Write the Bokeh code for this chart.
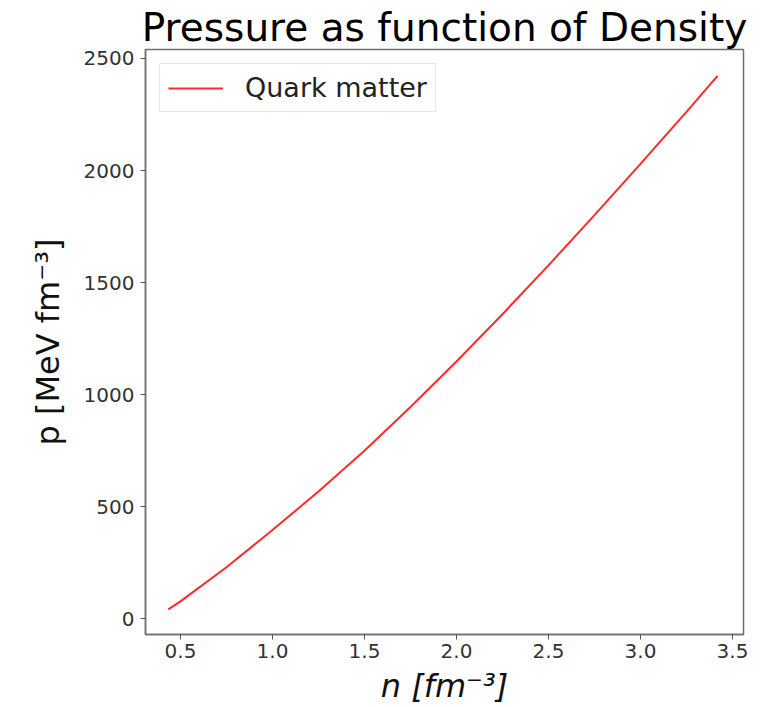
from bokeh.plotting import figure
from bokeh.models import Range1d, FixedTicker, Legend, LegendItem
from bokeh.embed import file_html
from bokeh.resources import INLINE

# ---- data ----
density = [0.434, 0.5, 0.75, 1.0, 1.25, 1.5, 1.75, 2.0, 2.25, 2.5, 2.75, 3.0, 3.25, 3.419]
pressure = [42, 78, 230, 396, 568, 750, 945, 1148, 1359, 1577, 1801, 2030, 2262, 2422]
series_name = "Quark matter"

x_ticks = [0.5, 1.0, 1.5, 2.0, 2.5, 3.0, 3.5]
x_tick_labels = ["0.5", "1.0", "1.5", "2.0", "2.5", "3.0", "3.5"]
y_ticks = [0, 500, 1000, 1500, 2000, 2500]
y_tick_labels = ["0", "500", "1000", "1500", "2000", "2500"]

title_text = "Pressure as function of Density"
x_label = "n [fm\u207b\u00b3]"
y_label = "p [MeV fm\u207b\u00b3]"

FONT = "DejaVu Sans"

p = figure(width=777, height=707, output_backend="svg", toolbar_location=None,
           title=title_text,
           x_range=Range1d(0.31, 3.56), y_range=Range1d(-70, 2540),
           min_border_left=145, min_border_right=34, min_border_top=49, min_border_bottom=70)

p.title.align = "center"
p.title.text_font = FONT
p.title.text_font_size = "39px"
p.title.text_font_style = "normal"
p.title.text_color = "black"
p.title.standoff = 0
p.title.offset = 0

p.background_fill_color = "white"
p.border_fill_color = "white"
p.grid.visible = False
p.outline_line_color = "#6f6f6f"
p.outline_line_width = 1.5

r = p.line(density, pressure, line_color="#ff2a2a", line_width=2)

for ax, ticks, labels in ((p.xaxis[0], x_ticks, x_tick_labels), (p.yaxis[0], y_ticks, y_tick_labels)):
    ax.ticker = FixedTicker(ticks=ticks)
    ax.major_label_overrides = {t: l for t, l in zip(ticks, labels)}
    ax.minor_tick_line_color = None
    ax.major_tick_in = 0
    ax.major_tick_out = 5
    ax.major_tick_line_color = "#555555"
    ax.axis_line_color = "#6f6f6f"
    ax.axis_line_width = 1.5
    ax.major_label_text_font = FONT
    ax.major_label_text_font_size = "20px"
    ax.major_label_text_color = "#333333"
    ax.axis_label_text_font = FONT
    ax.axis_label_text_color = "#111111"

p.xaxis.axis_label = x_label
p.xaxis.axis_label_text_font_style = "italic"
p.xaxis.axis_label_text_font_size = "32px"
p.xaxis.major_label_standoff = 4
p.xaxis.axis_label_standoff = 6

p.yaxis.axis_label = y_label
p.yaxis.axis_label_text_font_style = "normal"
p.yaxis.axis_label_text_font_size = "32px"
p.yaxis.major_label_standoff = 6
p.yaxis.axis_label_standoff = 14

legend = Legend(items=[LegendItem(label=series_name, renderers=[r])],
                location="top_left", margin=14, padding=8, spacing=0,
                glyph_width=55, glyph_height=30, label_standoff=22,
                label_text_font=FONT, label_text_font_size="27px", label_text_color="#222222",
                border_line_color="#d0d0d0", border_line_width=1,
                background_fill_color="white", background_fill_alpha=0.8)
p.add_layout(legend)

open("out.html", "w").write(file_html(p, INLINE))
